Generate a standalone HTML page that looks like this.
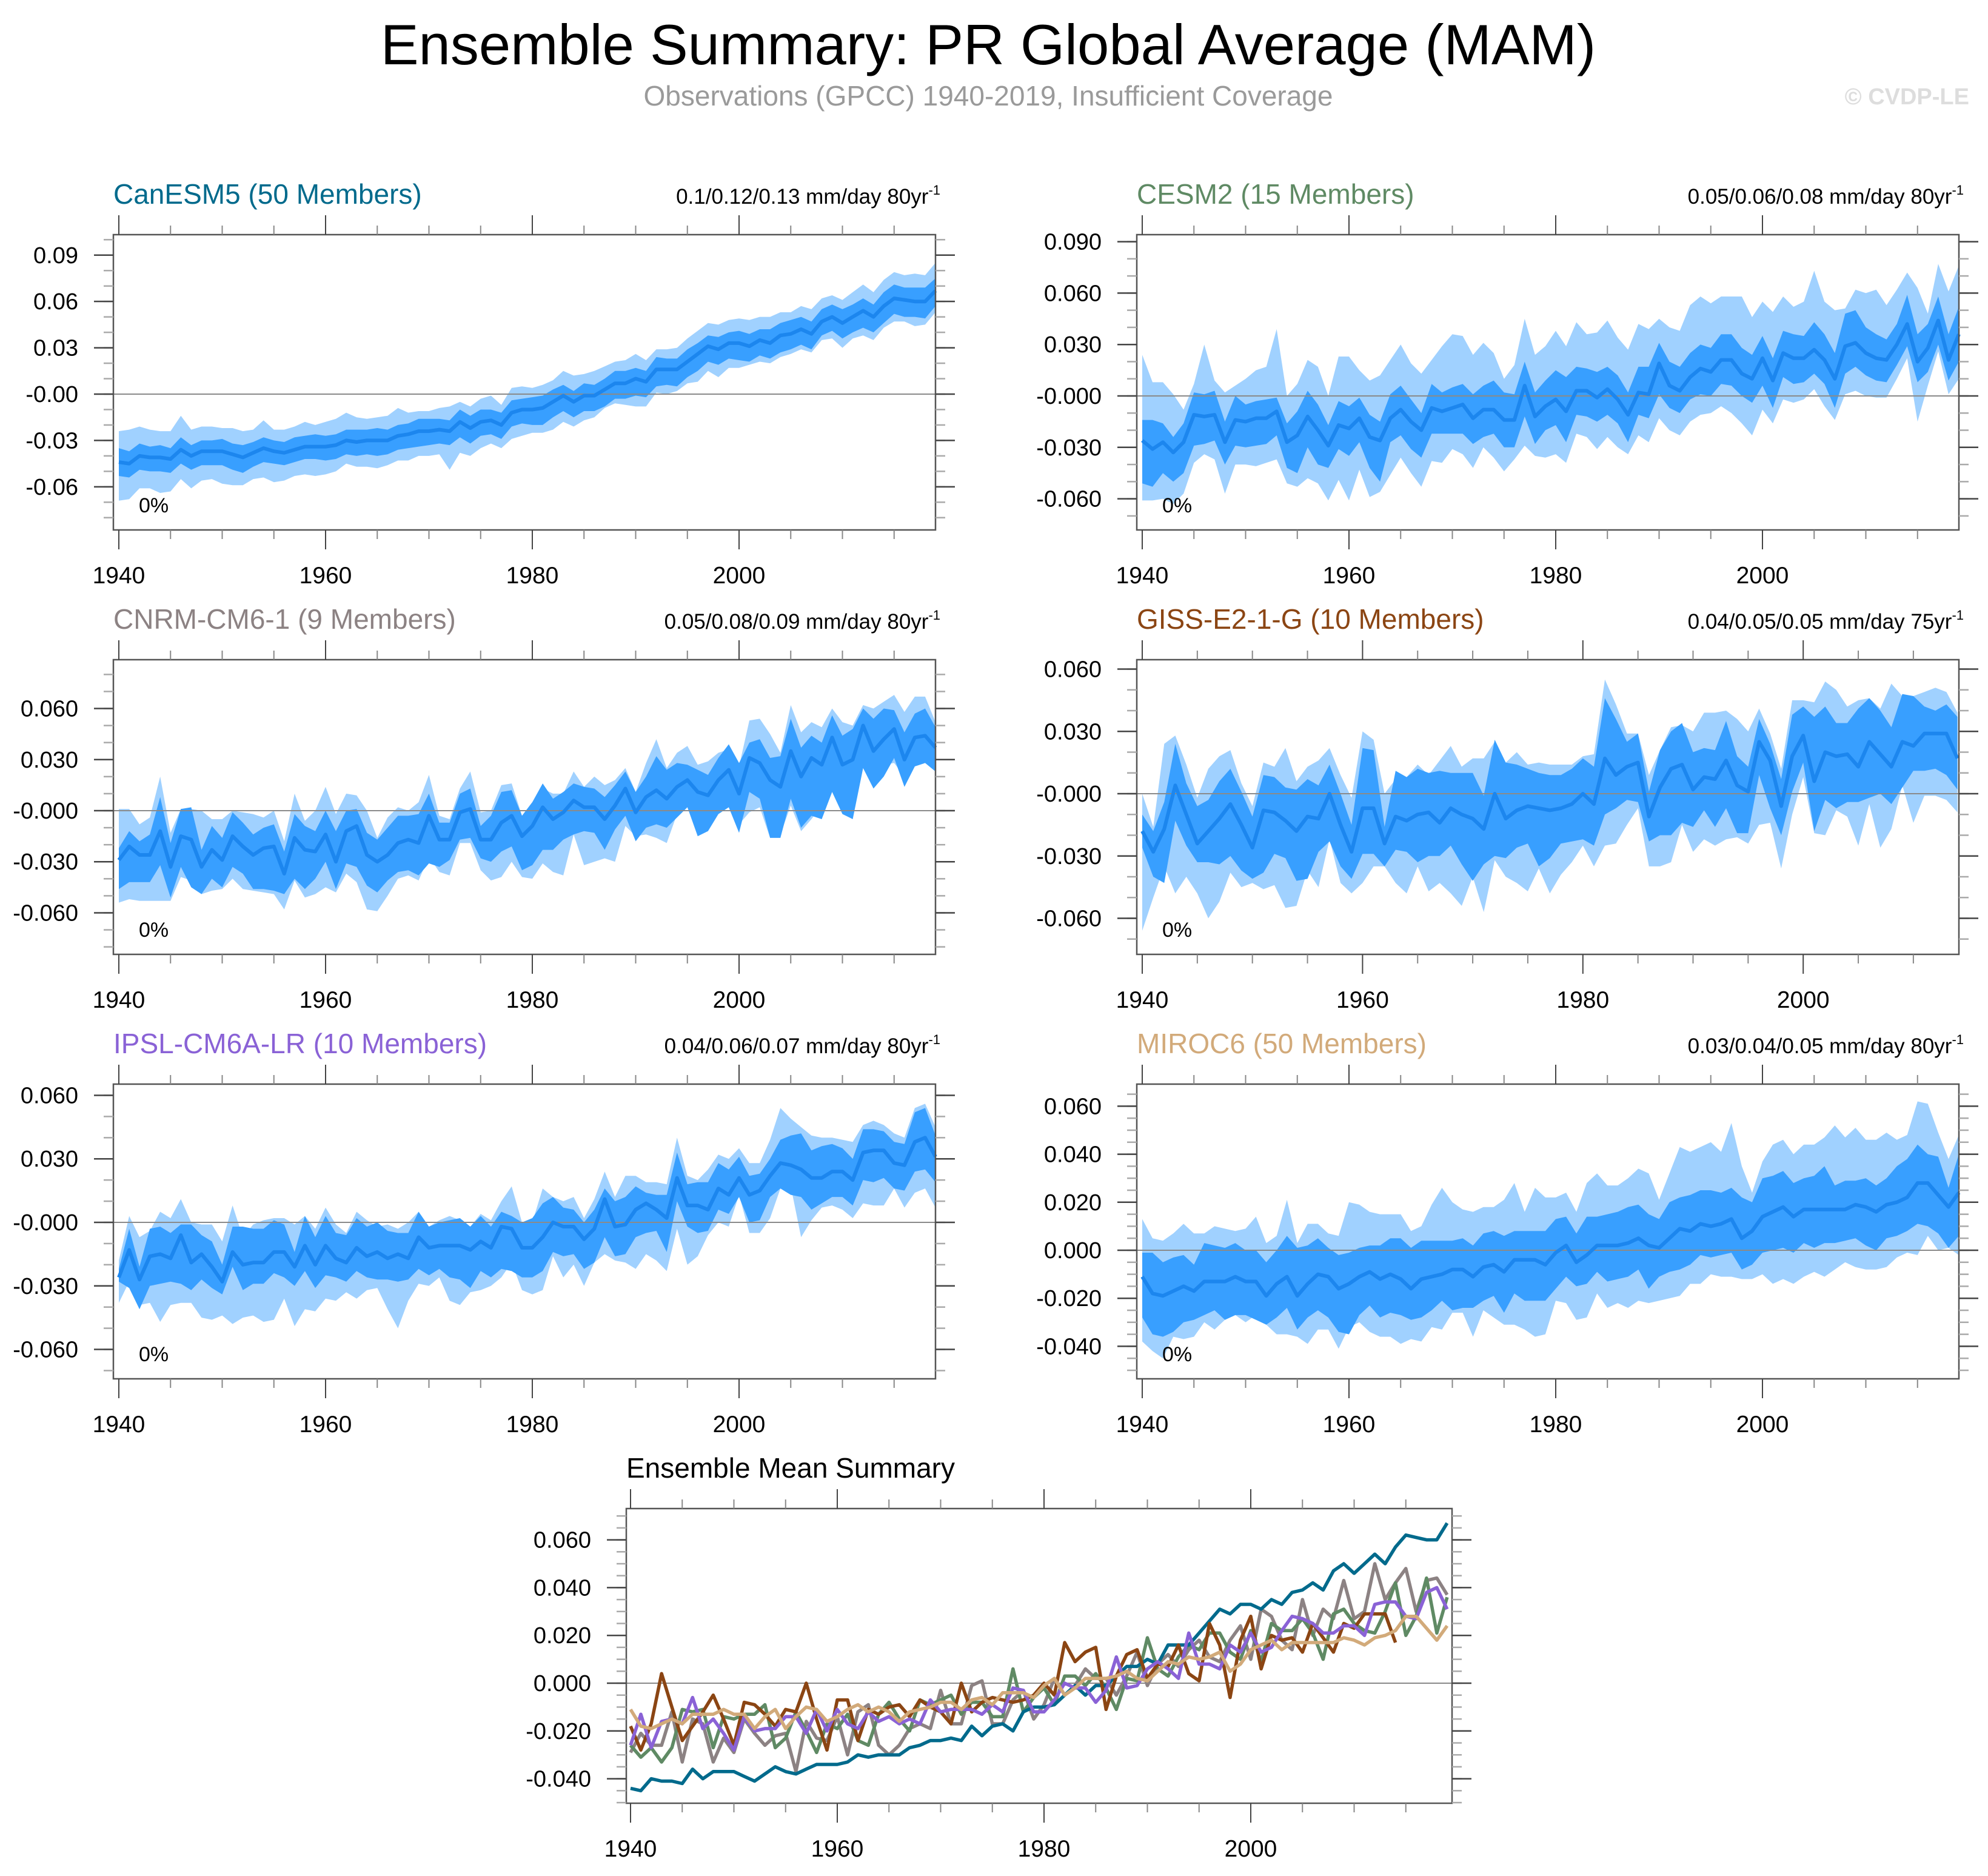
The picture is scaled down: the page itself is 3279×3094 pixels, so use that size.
<!DOCTYPE html>
<html><head><meta charset="utf-8">
<style>
html,body{margin:0;padding:0;background:#fff;}
svg{display:block;font-family:"Liberation Sans",Arial,sans-serif;}
</style></head>
<body>
<svg id="chart" width="3279" height="3094" viewBox="0 0 3279 3094" xmlns="http://www.w3.org/2000/svg">
<rect width="3279" height="3094" fill="#fff"/>
<text x="1630" y="106" font-size="94" text-anchor="middle" fill="#000">Ensemble Summary: PR Global Average (MAM)</text>
<text x="1630" y="174" font-size="46" text-anchor="middle" fill="#9a9a9a">Observations (GPCC) 1940-2019, Insufficient Coverage</text>
<text x="3248" y="172" font-size="38" font-weight="bold" text-anchor="end" fill="#dddddd">© CVDP-LE</text>
<g id="panels"></g>
</svg>
<script>
// ---- data (values in mm/day) ----
const canMean=[-0.044,-0.045,-0.040,-0.041,-0.041,-0.042,-0.036,-0.040,-0.037,-0.037,-0.037,-0.039,-0.041,-0.038,-0.035,-0.037,-0.038,-0.036,-0.034,-0.034,-0.034,-0.033,-0.030,-0.031,-0.030,-0.030,-0.030,-0.027,-0.026,-0.024,-0.024,-0.023,-0.024,-0.018,-0.022,-0.018,-0.017,-0.020,-0.012,-0.010,-0.010,-0.009,-0.005,-0.001,-0.005,-0.001,-0.001,0.003,0.007,0.007,0.010,0.008,0.016,0.016,0.016,0.021,0.026,0.031,0.029,0.033,0.033,0.031,0.035,0.033,0.038,0.039,0.042,0.039,0.047,0.050,0.046,0.050,0.054,0.050,0.057,0.062,0.061,0.060,0.060,0.067];
const canOU=[20,22,19,18,17,18,22,17,16,16,15,17,17,15,18,14,15,15,16,14,16,17,18,16,14,15,16,18,14,13,13,14,16,13,14,15,16,13,16,15,14,15,14,16,17,14,16,15,14,15,16,14,13,13,14,15,15,15,16,15,16,17,15,17,15,14,15,16,15,14,15,16,17,16,17,17,16,18,17,18];
const canIU=[9,8,8,7,8,7,8,7,7,7,8,7,8,7,7,7,7,8,7,8,7,7,7,8,7,8,7,7,7,8,8,7,7,8,8,8,7,8,8,7,8,8,8,7,7,8,7,7,8,8,7,7,8,7,7,8,7,7,8,7,8,8,7,9,8,9,8,8,8,8,9,8,8,8,9,9,8,9,9,8];
const canIL=[9,9,9,9,9,9,9,9,9,9,9,10,10,9,9,8,8,8,8,8,9,9,9,9,9,10,9,9,9,10,9,9,9,10,10,9,9,9,9,9,10,11,10,10,10,10,10,11,10,10,11,10,11,10,11,10,11,10,10,10,11,10,10,10,11,10,10,10,9,9,10,10,11,10,11,10,11,10,11,10];
const canOL=[25,23,21,20,23,21,19,21,19,18,21,20,18,17,19,20,18,17,18,19,18,17,15,16,17,18,16,16,17,16,16,16,25,20,18,17,15,15,17,17,15,16,18,17,16,16,14,12,13,14,18,16,15,16,14,14,18,16,18,16,16,12,14,13,14,13,13,12,12,14,16,14,16,15,14,15,14,16,15,14];

const cesmMean=[-0.026,-0.031,-0.027,-0.033,-0.027,-0.011,-0.012,-0.011,-0.027,-0.014,-0.015,-0.013,-0.013,-0.009,-0.027,-0.023,-0.012,-0.020,-0.029,-0.017,-0.019,-0.013,-0.024,-0.026,-0.013,-0.008,-0.015,-0.020,-0.007,-0.009,-0.007,-0.005,-0.013,-0.008,-0.008,-0.014,-0.014,0.006,-0.012,-0.006,-0.002,-0.009,0.003,0.003,-0.001,0.004,-0.002,-0.011,0.002,0.001,0.019,0.006,0.003,0.011,0.016,0.014,0.021,0.021,0.013,0.010,0.022,0.009,0.025,0.022,0.022,0.027,0.021,0.010,0.029,0.031,0.025,0.022,0.021,0.030,0.042,0.020,0.028,0.044,0.021,0.036];
const cesmOU=[50,39,35,34,19,18,42,20,29,20,25,28,30,48,27,30,33,37,29,40,42,28,33,38,34,38,34,33,28,38,43,40,37,39,33,24,32,39,36,35,40,38,40,33,38,40,36,38,40,38,26,34,35,42,42,40,37,37,45,36,33,40,33,30,33,46,34,40,22,31,35,40,32,32,30,43,20,33,40,40];
const cesmIU=[12,17,11,9,11,13,13,14,12,14,10,10,11,8,11,14,15,15,12,14,13,12,13,11,14,14,13,10,14,11,12,12,14,14,17,16,15,14,14,15,17,20,14,13,15,13,14,13,15,16,12,14,14,14,14,14,15,15,15,14,13,13,13,14,13,16,15,15,19,19,15,14,12,12,17,16,14,14,15,16];
const cesmIL=[25,22,18,17,18,18,16,15,13,15,15,16,15,14,15,22,18,20,13,14,16,14,18,24,14,15,16,16,15,13,15,17,15,16,14,16,16,18,16,14,15,18,14,15,14,15,14,16,13,14,18,13,13,13,15,14,14,15,13,14,16,16,14,15,14,14,14,17,16,14,13,13,13,12,13,12,14,14,12,16];
const cesmOL=[35,30,33,30,30,28,22,26,30,26,25,28,26,28,24,30,36,31,32,32,42,30,35,30,33,28,30,33,31,30,24,29,29,22,28,30,23,35,23,30,32,30,25,27,30,28,28,23,25,28,32,26,26,26,27,24,27,31,29,33,30,25,27,26,24,23,27,24,28,28,25,23,22,20,20,35,22,18,20,26];

const cnrmMean=[-0.029,-0.021,-0.026,-0.026,-0.012,-0.033,-0.015,-0.017,-0.033,-0.023,-0.029,-0.015,-0.021,-0.026,-0.022,-0.021,-0.037,-0.016,-0.023,-0.024,-0.014,-0.030,-0.012,-0.009,-0.026,-0.030,-0.026,-0.019,-0.017,-0.019,-0.003,-0.017,-0.017,-0.001,0.001,-0.017,-0.017,-0.007,-0.003,-0.015,-0.009,0.002,-0.005,-0.001,0.006,0.002,0.002,-0.005,0.003,0.013,-0.001,0.008,0.012,0.007,0.014,0.018,0.011,0.009,0.018,0.024,0.010,0.031,0.028,0.018,0.014,0.035,0.020,0.031,0.027,0.043,0.027,0.030,0.050,0.035,0.042,0.048,0.030,0.043,0.044,0.037];
const cnrmOU=[30,22,18,22,32,20,16,18,33,18,24,15,20,24,18,21,19,26,17,24,28,28,22,18,26,14,22,21,17,24,24,14,12,14,22,16,17,22,19,12,14,11,15,11,17,12,18,20,15,12,12,20,30,18,20,20,16,20,16,12,16,22,26,27,20,27,26,21,22,17,25,20,12,25,22,20,28,24,23,15];
const cnrmIU=[7,9,8,12,20,14,16,19,10,14,13,14,14,12,12,13,13,14,14,12,14,18,12,10,13,13,16,16,14,17,13,10,10,11,12,8,14,18,15,12,14,14,12,12,10,12,11,13,12,10,12,12,20,17,14,9,13,12,13,15,18,9,14,13,18,19,17,13,13,13,17,18,10,19,18,11,16,14,16,12];
const cnrmIL=[17,21,16,16,20,18,18,28,16,17,16,18,16,20,24,26,12,24,23,16,16,16,19,24,18,18,15,17,18,19,28,16,12,16,17,11,13,17,18,20,23,25,18,16,20,14,15,18,14,16,17,18,20,17,18,16,26,21,20,22,23,20,21,34,30,28,30,34,32,32,29,35,25,22,22,17,16,17,16,14];
const cnrmOL=[25,31,27,27,41,20,24,24,16,24,17,25,25,21,26,28,21,25,28,25,31,18,25,33,32,29,24,21,21,22,24,19,21,18,20,18,24,32,27,24,31,33,31,37,20,34,32,23,33,22,14,22,28,26,16,13,22,13,10,13,18,32,26,34,28,32,32,36,24,30,18,24,20,20,15,20,10,14,16,12];

const gissMean=[-0.018,-0.028,-0.017,0.004,-0.010,-0.024,-0.018,-0.012,-0.005,-0.015,-0.026,-0.008,-0.009,-0.013,-0.018,-0.011,-0.012,0.000,-0.015,-0.028,-0.007,-0.007,-0.024,-0.011,-0.013,-0.010,-0.009,-0.014,-0.007,-0.010,-0.012,-0.017,0.000,-0.012,-0.008,-0.006,-0.007,-0.008,-0.007,-0.005,0.000,-0.005,0.017,0.009,0.013,0.015,-0.011,0.003,0.012,0.014,0.002,0.008,0.007,0.016,0.004,0.001,0.025,0.016,-0.006,0.018,0.028,0.006,0.020,0.018,0.019,0.013,0.025,0.019,0.013,0.025,0.023,0.029,0.029,0.029,0.017];
const gissOU=[18,12,41,24,24,22,30,30,26,20,20,23,22,35,24,24,28,22,24,26,37,33,24,18,21,24,18,30,30,23,29,34,25,27,28,20,22,22,21,19,18,24,38,34,16,14,20,18,20,19,28,31,32,24,32,29,16,13,18,27,17,38,34,32,23,32,21,22,40,22,24,20,22,20,22];
const gissIU=[8,10,13,20,15,18,15,18,17,16,15,17,17,16,20,18,16,14,15,13,29,28,8,22,21,22,19,25,17,20,22,16,26,27,22,18,17,17,16,17,17,18,29,27,12,14,12,18,18,20,18,14,14,19,14,12,11,8,13,20,14,31,22,16,15,28,21,21,19,23,24,13,11,14,20];
const gissIL=[8,12,26,17,15,9,15,22,25,22,15,30,20,18,24,30,16,23,20,13,22,22,11,16,15,23,21,16,18,24,30,17,30,19,18,18,28,23,17,18,22,20,27,16,16,19,12,23,32,28,18,16,23,23,23,20,16,23,14,17,13,24,23,25,23,17,27,19,18,22,12,18,17,20,15];
const gissOL=[48,22,18,52,30,24,42,40,33,30,17,38,35,42,36,26,33,22,28,20,36,28,11,32,35,25,38,29,41,44,28,40,32,28,35,41,29,40,32,28,25,30,42,33,28,22,24,38,45,29,30,30,32,38,25,25,40,30,30,28,20,25,40,26,30,38,30,45,30,21,37,30,30,32,26];

const ipslMean=[-0.026,-0.013,-0.027,-0.016,-0.015,-0.017,-0.006,-0.019,-0.015,-0.021,-0.028,-0.014,-0.020,-0.019,-0.019,-0.014,-0.014,-0.021,-0.011,-0.020,-0.011,-0.017,-0.019,-0.012,-0.016,-0.014,-0.017,-0.015,-0.017,-0.007,-0.012,-0.011,-0.011,-0.011,-0.013,-0.009,-0.012,-0.002,-0.003,-0.012,-0.012,-0.007,0.000,-0.002,-0.002,-0.008,-0.003,0.011,-0.002,-0.001,0.006,0.009,0.006,0.002,0.021,0.008,0.008,0.006,0.016,0.013,0.021,0.013,0.015,0.022,0.028,0.027,0.025,0.021,0.021,0.024,0.024,0.020,0.033,0.034,0.034,0.028,0.027,0.038,0.040,0.031];
const ipslOU=[8,16,20,12,20,19,17,19,14,20,19,22,13,18,20,16,16,20,14,17,18,16,14,17,17,12,16,12,17,12,10,12,14,12,11,13,13,12,20,12,12,23,12,12,14,10,14,13,14,23,16,10,13,16,19,14,12,19,16,17,14,15,13,17,26,22,20,20,19,16,15,18,13,14,12,14,13,16,16,14];
const ipslIU=[4,10,6,13,13,12,5,18,9,12,8,12,18,16,16,15,13,7,14,13,14,12,13,14,14,14,13,10,12,12,10,11,12,13,11,12,10,7,6,12,14,16,12,9,8,8,9,5,12,13,11,5,7,11,12,10,11,13,12,12,10,9,8,8,11,14,17,13,15,13,11,10,11,10,9,10,10,14,14,10];
const ipslIL=[2,18,14,14,14,11,23,13,12,10,6,7,12,10,10,10,12,9,12,11,14,9,9,11,10,13,10,13,10,15,13,11,15,16,18,14,14,20,20,14,14,16,14,14,13,14,16,18,14,14,13,14,10,16,11,10,13,10,10,9,9,13,14,10,12,14,13,15,12,12,12,12,13,15,13,12,12,14,15,12];
const ipslOL=[12,15,12,22,32,22,32,19,30,25,16,34,25,25,28,32,22,28,30,22,25,20,14,24,16,17,24,35,20,22,18,15,26,28,20,23,18,24,16,20,22,25,16,24,18,22,16,26,16,18,28,24,24,25,24,28,24,12,16,15,8,18,20,20,12,10,32,20,14,16,18,18,24,26,26,12,20,24,24,24];

const mirocMean=[-0.011,-0.018,-0.019,-0.017,-0.015,-0.017,-0.013,-0.013,-0.013,-0.011,-0.013,-0.013,-0.019,-0.014,-0.011,-0.019,-0.014,-0.010,-0.011,-0.016,-0.014,-0.011,-0.009,-0.012,-0.010,-0.012,-0.016,-0.012,-0.011,-0.010,-0.008,-0.008,-0.011,-0.007,-0.006,-0.009,-0.004,-0.004,-0.004,-0.006,-0.001,0.002,-0.005,-0.002,0.002,0.002,0.002,0.003,0.005,0.002,0.001,0.005,0.009,0.008,0.011,0.010,0.011,0.013,0.005,0.008,0.014,0.016,0.018,0.014,0.017,0.017,0.017,0.017,0.017,0.019,0.018,0.016,0.019,0.020,0.022,0.028,0.028,0.023,0.018,0.024];
const mirocOU=[24,23,23,24,26,24,20,23,22,19,22,27,22,20,32,22,25,21,18,22,34,30,25,27,25,27,24,22,30,36,28,25,27,25,24,30,32,20,30,28,23,22,21,30,30,25,25,27,29,30,20,27,34,33,32,35,30,40,30,16,23,28,28,26,27,27,30,35,30,32,28,30,30,26,26,34,33,26,20,24];
const mirocIU=[10,17,14,14,13,11,16,15,14,14,13,13,14,14,17,20,16,15,12,14,13,12,11,14,15,17,17,16,15,14,12,13,13,14,14,15,12,12,12,14,14,12,12,16,12,13,14,15,14,13,12,15,13,15,14,15,13,13,17,12,16,15,15,14,13,14,18,10,12,10,12,11,11,15,16,16,12,16,8,16];
const mirocIL=[17,17,17,17,15,12,14,12,16,16,14,16,12,14,13,14,14,15,17,18,21,16,14,16,16,15,13,16,14,11,17,16,13,14,13,17,14,17,17,15,15,13,10,12,11,15,14,14,13,18,12,14,17,14,13,13,13,14,13,14,15,16,17,15,14,16,14,14,13,14,16,16,14,14,14,17,18,16,17,18];
const mirocOL=[27,24,26,19,22,19,17,20,16,16,17,14,12,21,24,17,25,23,22,25,18,19,25,24,26,27,21,26,21,23,18,18,25,18,22,22,27,29,32,29,20,24,24,26,20,26,24,27,26,24,22,25,28,22,25,20,22,24,17,20,24,30,30,28,28,26,28,25,22,26,26,24,26,23,23,30,22,23,17,26];

// ---- tick label arrays ----
const ticksP1=[0.09,0.06,0.03,0,-0.03,-0.06];
const labelsP1=["0.09","0.06","0.03","-0.00","-0.03","-0.06"];
const ticksP2=[0.09,0.06,0.03,0,-0.03,-0.06];
const labelsP2=["0.090","0.060","0.030","-0.000","-0.030","-0.060"];
const ticks3=[0.06,0.03,0,-0.03,-0.06];
const labels3=["0.060","0.030","-0.000","-0.030","-0.060"];
const ticks2=[0.06,0.04,0.02,0,-0.02,-0.04];
const labels2=["0.060","0.040","0.020","0.000","-0.020","-0.040"];
const yearTicks=[1940,1960,1980,2000];
const modelNames=["CanESM5 (50 Members)","CESM2 (15 Members)","CNRM-CM6-1 (9 Members)","GISS-E2-1-G (10 Members)","IPSL-CM6A-LR (10 Members)","MIROC6 (50 Members)"];
const trendText=["0.1/0.12/0.13 mm/day 80yr","0.05/0.06/0.08 mm/day 80yr","0.05/0.08/0.09 mm/day 80yr","0.04/0.05/0.05 mm/day 75yr","0.04/0.06/0.07 mm/day 80yr","0.03/0.04/0.05 mm/day 80yr"];
const modelColors=["#006a8c","#5f8a64","#8c8283","#8b4513","#8a62d6","#d2aa7a"];

const NS="http://www.w3.org/2000/svg";
const root=document.getElementById('panels');
function mk(tag,attrs,parent){const e=document.createElementNS(NS,tag);for(const k in attrs)e.setAttribute(k,attrs[k]);(parent||root).appendChild(e);return e;}

function panel(cfg){
  const g=mk('g',{});
  
  
  const X=y=>cfg.x0+(y-1940)*cfg.pxYr;
  const Y=v=>cfg.y0-v*cfg.sc;
  const nYears=cfg.mean?cfg.mean.length:80;
  if(cfg.mean){
    const m=cfg.mean;
    function band(up,dn,color,nm){
      let d='';
      for(let i=0;i<m.length;i++)d+=(i?'L':'M')+X(1940+i).toFixed(1)+','+Y(m[i]+up[i]/1000).toFixed(1);
      for(let i=m.length-1;i>=0;i--)d+='L'+X(1940+i).toFixed(1)+','+Y(m[i]-dn[i]/1000).toFixed(1);
      const p=mk('path',{d:d+'Z',fill:color},g);
      
      
    }
    band(cfg.oU,cfg.oL,'#a0d1ff','outer-spread-band');
    band(cfg.iU,cfg.iL,'#389fff','inner-spread-band');
  }
  const zl=mk('line',{x1:cfg.L,x2:cfg.R,y1:Y(0),y2:Y(0),stroke:'#8a8a8a','stroke-width':2},g);
  
  
  (cfg.lines||[]).forEach(ln=>{
    let d='';
    ln.v.forEach((v,i)=>{d+=(i?'L':'M')+X(1940+i).toFixed(1)+','+Y(v).toFixed(1);});
    const p=mk('path',{d:d,fill:'none',stroke:ln.c,'stroke-width':ln.w,'stroke-linejoin':'round'},g);
    
    
  });
  const fr=mk('rect',{x:cfg.L,y:cfg.T,width:cfg.R-cfg.L,height:cfg.B-cfg.T,fill:'none',stroke:'#555','stroke-width':2.5},g);
  
  
  const top=(cfg.y0-cfg.T)/cfg.sc, bot=(cfg.y0-cfg.B)/cfg.sc;
  for(let k=Math.ceil(bot/cfg.minor-1e-6);k*cfg.minor<=top+1e-9;k++){
    const v=k*cfg.minor, y=Y(v);
    mk('line',{x1:cfg.L-16,x2:cfg.L,y1:y,y2:y,stroke:'#aaa','stroke-width':2.5},g);
    mk('line',{x1:cfg.R,x2:cfg.R+16,y1:y,y2:y,stroke:'#aaa','stroke-width':2.5},g);
  }
  cfg.ticks.forEach((v,i)=>{
    const y=Y(v);
    mk('line',{x1:cfg.L-32,x2:cfg.L,y1:y,y2:y,stroke:'#444','stroke-width':2.5},g);
    mk('line',{x1:cfg.R,x2:cfg.R+32,y1:y,y2:y,stroke:'#444','stroke-width':2.5},g);
    const t=mk('text',{x:cfg.L-58,y:y+13,'font-size':38,'text-anchor':'end',fill:'#000'},g);
    t.textContent=cfg.labels[i];
    
    
  });
  const lastYear=1940+nYears-1;
  for(let yr=1940;yr<=lastYear;yr+=5){
    const x=X(yr), major=(yr%20===0);
    const len=major?32:15;
    mk('line',{x1:x,x2:x,y1:cfg.T-len,y2:cfg.T,stroke:major?'#444':'#888','stroke-width':2},g);
    mk('line',{x1:x,x2:x,y1:cfg.B,y2:cfg.B+len,stroke:major?'#444':'#888','stroke-width':2},g);
  }
  yearTicks.forEach(yr=>{
    const t=mk('text',{x:X(yr),y:cfg.B+88,'font-size':39,'text-anchor':'middle',fill:'#000'},g);
    t.textContent=String(yr);
    
    
  });
  const tt=mk('text',{x:cfg.L,y:cfg.T-51,'font-size':cfg.titleSize||46,fill:cfg.titleColor},g);
  tt.textContent=cfg.title;
  
  
  if(cfg.trend){
    const tr=mk('text',{x:cfg.R+8,y:cfg.T-51,'font-size':35,'text-anchor':'end',fill:'#000'},g);
    
    
    const s1=mk('tspan',{},tr);s1.textContent=cfg.trend;
    const s2=mk('tspan',{'font-size':22,dy:-15},tr);s2.textContent='-1';
    const pc=mk('text',{x:cfg.L+42,y:cfg.B-29,'font-size':34,fill:'#000'},g);
    pc.textContent='0%';
    
    
  }
}

const means=[canMean,cesmMean,cnrmMean,gissMean,ipslMean,mirocMean];
const ups=[[canOU,canIU,canIL,canOL],[cesmOU,cesmIU,cesmIL,cesmOL],[cnrmOU,cnrmIU,cnrmIL,cnrmOL],[gissOU,gissIU,gissIL,gissOL],[ipslOU,ipslIU,ipslIL,ipslOL],[mirocOU,mirocIU,mirocIL,mirocOL]];
const layout=[
 {L:187,R:1543,T:387,B:874,x0:196,pxYr:17.05,y0:650,sc:2547,minor:0.01,ticks:ticksP1,labels:labelsP1},
 {L:1875,R:3231,T:387,B:874,x0:1884,pxYr:17.05,y0:653,sc:2827,minor:0.01,ticks:ticksP2,labels:labelsP2},
 {L:187,R:1543,T:1088,B:1574,x0:196,pxYr:17.05,y0:1337,sc:2808,minor:0.01,ticks:ticks3,labels:labels3},
 {L:1875,R:3231,T:1088,B:1574,x0:1884,pxYr:18.17,y0:1309,sc:3425,minor:0.01,ticks:ticks3,labels:labels3},
 {L:187,R:1543,T:1788,B:2274,x0:196,pxYr:17.05,y0:2016,sc:3492,minor:0.01,ticks:ticks3,labels:labels3},
 {L:1875,R:3231,T:1788,B:2274,x0:1884,pxYr:17.05,y0:2062,sc:3960,minor:0.005,ticks:ticks2,labels:labels2}
];
const pnames=['canesm5-panel','cesm2-panel','cnrm-panel','giss-panel','ipsl-panel','miroc6-panel'];
layout.forEach((c,i)=>{
  c.name=pnames[i];c.mean=means[i];
  c.oU=ups[i][0];c.iU=ups[i][1];c.iL=ups[i][2];c.oL=ups[i][3];
  c.lines=[{v:means[i],c:'#1c86ee',w:6,n:'ensemble-mean-line'}];
  c.title=modelNames[i];c.titleColor=modelColors[i];c.trend=trendText[i];
  panel(c);
});
const lineNames=['canesm5-mean-line','cesm2-mean-line','cnrm-mean-line','giss-mean-line','ipsl-mean-line','miroc6-mean-line'];
panel({name:'ensemble-mean-summary-panel',L:1033,R:2395,T:2488,B:2974,x0:1040,pxYr:17.05,y0:2776,sc:3940,minor:0.005,ticks:ticks2,labels:labels2,
  lines:[2,1,0,3,4,5].map(i=>({v:means[i],c:modelColors[i],w:5.5,n:lineNames[i]})),
  title:'Ensemble Mean Summary',titleColor:'#000',titleSize:46});
</script>
</body></html>
